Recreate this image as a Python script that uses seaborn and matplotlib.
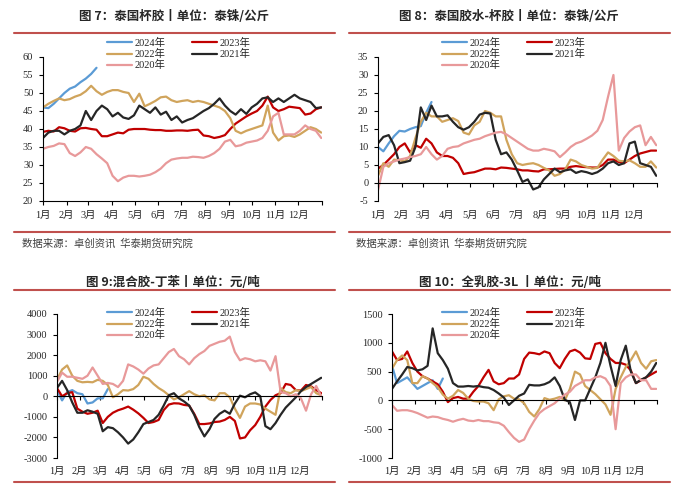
import numpy as np
import matplotlib
matplotlib.use('Agg')
import matplotlib.pyplot as plt
from matplotlib.lines import Line2D
import seaborn as sns

# weekly sample positions (day of year)
days = np.arange(0, 365, 7)
month_starts = [0, 31, 59, 90, 120, 151, 181, 212, 243, 273, 304, 334]
month_labels = ['1月', '2月', '3月', '4月', '5月', '6月', '7月', '8月', '9月', '10月', '11月', '12月']
years = ['2024年', '2023年', '2022年', '2021年', '2020年']
colors = ['#5B9BD5', '#C00000', '#D0A45C', '#262626', '#E8999A']

# 图7 泰国杯胶
cup_2024 = [46, 45.8, 47, 48.5, 50, 51.2, 51.8, 53, 54, 55.3, 57]
cup_2023 = [39.2, 39.5, 39.3, 40.5, 40.2, 39.5, 39.3, 40.2, 40.3, 40,
            39.8, 38, 38, 38.5, 39, 38.8, 39.8, 40, 40, 40,
            39.8, 39.7, 39.7, 39.5, 39.5, 39.6, 39.6, 39.5, 39.7, 39.8,
            38.2, 38, 37.5, 37.8, 38.3, 40, 41.5, 42.5, 43.5, 44.3,
            45, 46.5, 49, 46, 45, 45.5, 46.2, 46, 45.8, 44,
            44.3, 45.5, 46]
cup_2022 = [46, 47, 47.8, 48.5, 48, 48.3, 49, 49.5, 50.5, 52,
            50.5, 49.5, 50.3, 50.8, 50.8, 50.3, 50, 47.5, 49.8, 46.3,
            47, 47.8, 48.8, 49, 48, 47.5, 47.8, 48, 47.5, 47.8,
            47.5, 47, 46.5, 46, 45, 43, 39.5, 38.8, 39.5, 40,
            40.5, 41, 46.5, 39, 36.8, 38, 38.2, 37.8, 38.5, 39.5,
            40.5, 40, 39]
cup_2021 = [37.5, 39, 39.5, 39.5, 38.5, 39.5, 40, 41, 45, 42.5,
            45, 46.5, 45.5, 43.5, 44.5, 43.2, 42.8, 43.8, 46.5, 45.5,
            44.5, 46, 44, 44.8, 42.5, 43.5, 41.8, 42.5, 43, 44,
            45, 45.8, 47, 48.5, 46.5, 45, 44, 45.5, 44.2, 46,
            47, 48.5, 48.8, 47.5, 48.5, 47.5, 48.5, 49.5, 48.5, 48,
            47.5, 45.8, 46]
cup_2020 = [34.5, 35, 35.3, 36, 35.8, 33.3, 32.5, 33.5, 35, 34.5,
            33, 31.8, 30.5, 27, 25.5, 26.5, 27, 27, 26.8, 27,
            27.3, 28, 29, 30.5, 31.5, 31.8, 32, 32, 32.3, 32.2,
            32, 32.5, 33.3, 34.5, 36.5, 37, 35.2, 35.5, 36.2, 36.5,
            36.8, 37.5, 39.5, 43.5, 44.5, 38.5, 38.5, 38.5, 39.5, 41,
            40, 39.5, 37.5]

# 图8 泰国胶水-杯胶
spread_2024 = [10, 8.8, 11, 13, 14.5, 14.3, 15, 15.5, 15.8, 19.5, 22.5]
spread_2023 = [4, 5, 6.5, 8, 10, 11, 8.5, 10.5, 9.8, 12.3,
               11, 8.5, 7.5, 7.5, 7, 5.5, 2.5, 2.8, 3, 3.5,
               4, 4, 3.8, 4.3, 4.2, 4, 3.8, 3.5, 3.5, 3.3,
               3.2, 3.8, 3.8, 3.9, 4, 4, 4.5, 4.7, 4.5, 4.4,
               4.3, 4.3, 5, 6.5, 6.5, 5.8, 5.5, 6.5, 7.5, 8.2,
               8.6, 9, 9]
spread_2022 = [2, 5.5, 4.5, 6.5, 6.3, 6, 7.5, 12.5, 17, 19.5,
               18.5, 18.5, 17, 17.5, 18, 17.2, 14, 13.5, 16, 17,
               20, 19.5, 18.5, 18.5, 12, 8, 5.5, 5, 5.3, 5.5,
               5, 4.2, 3.5, 2, 2.5, 3.8, 6.5, 6, 5, 4.5,
               4, 4.2, 6.5, 8.5, 7.5, 6.2, 6, 6.3, 5.5, 4.5,
               4.5, 6, 4.3]
spread_2021 = [11, 12.8, 13.3, 10.5, 5.5, 5.8, 6.2, 10, 21, 17.5,
               21.5, 18.5, 18.5, 18.8, 17, 15.5, 14.8, 15.5, 17, 19,
               19.5, 19.3, 12, 8, 8.5, 6.5, 3.5, 0.3, 1, -1.8,
               -1.2, 1, 2.5, 4, 3, 3.5, 3.8, 2.8, 3.3, 3,
               2.5, 3, 4, 5.5, 6, 5, 5.5, 11, 11.5, 5.5,
               5, 4.5, 2]
spread_2020 = [-2, 4.5, 5.5, 6, 6.5, 6.8, 7.2, 7.5, 8, 10,
               8, 6.5, 7.5, 9.5, 10, 10.2, 11, 11.5, 12, 12.3,
               13, 13.5, 14, 14.2, 13.5, 12.5, 11.5, 10.5, 9.5, 9,
               9, 9.5, 9.2, 8.8, 7.2, 8.5, 10, 11, 11.5, 12.3,
               13.2, 14.5, 17.5, 24, 30, 9, 12.5, 14.3, 15.5, 16,
               10.5, 12.8, 10.5]

# 图9 混合胶-丁苯
mix_2024 = [300, -200, 200, 300, 150, 100, -350, -300, -100, -100, 350]
mix_2023 = [400, 0, 150, 200, -600, -750, -850, -800, -700, -1300,
            -1000, -800, -680, -600, -500, -650, -830, -1050, -1300, -1250,
            -1150, -670, -400, -340, -350, -420, -450, -850, -1350, -1350,
            -1320, -1250, -1230, -1150, -1000, -1200, -2050, -2000, -1650, -1400,
            -1000, -500, -180, 50, 150, 600, 550, 300, 280, 550,
            480, 300, 150]
mix_2022 = [800, 1300, 1500, 1000, 750, 680, 700, 680, 800, 750,
            550, -50, 100, 300, 280, 350, 550, 950, 850, 600,
            400, 250, 50, -150, -50, 100, 250, 100, 0, 50,
            -150, -200, 150, 150, -50, -600, -1050, -500, -350, -350,
            -400, -600, -750, -900, 400, 200, 150, 300, 250, 350,
            450, 150, 50]
mix_2021 = [400, 750, 300, -300, -800, -800, -680, -750, -850, -1700,
            -1500, -1550, -1750, -2000, -2300, -2100, -1750, -1350, -1250, -1150,
            -900, -450, 50, 150, -100, -250, -450, -900, -1500, -1950,
            -1600, -1100, -850, -700, -850, -350, 30, -50, 100, 190,
            0, -1450, -1600, -1300, -900, -550, -300, -50, 250, 450,
            600, 750, 900]
mix_2020 = [700, 1150, 950, 950, 900, 850, 1000, 1400, 1000, 600,
            650, 600, 450, 750, 1550, 1450, 1300, 1100, 1350, 1500,
            1550, 1850, 2150, 2300, 1950, 1800, 1550, 1850, 2050, 2200,
            2450, 2550, 2650, 2700, 2900, 2150, 1750, 1850, 1800, 1700,
            1750, 1700, 1250, 1950, 200, 150, 0, 100, -100, -700,
            100, 500, 0]

# 图10 全乳胶-3L
full_2024 = [600, 300, 350, 400, 300, 200, 250, 300, 350, 200, 380]
full_2023 = [850, 700, 720, 850, 650, 500, 420, 380, 330, 280,
             150, -30, 40, 60, 30, 30, 150, 250, 400, 530,
             330, 280, 300, 380, 380, 450, 720, 830, 820, 800,
             850, 820, 650, 560, 720, 850, 880, 830, 730, 720,
             980, 1000, 820, 720, 650, 650, 620, 520, 300, 350,
             400, 450, 500]
full_2022 = [550, 700, 780, 700, 300, 300, 420, 380, 300, 230,
             100, 30, 80, 180, 130, 30, -10, -20, -20, -50,
             -170, 20, 70, 90, 30, 20, -50, -200, -280, -150,
             40, 10, 30, 60, 0, 200, 500, 450, 250, 180,
             110, 20, -70, -250, 200, 400, 580, 700, 850, 650,
             550, 680, 700]
full_2021 = [200, 330, 450, 580, 560, 520, 540, 600, 1250, 820,
             700, 550, 300, 240, 240, 250, 240, 250, 230, 220,
             180, 120, 50, -80, 0, 80, 120, 270, 260, 260,
             280, 320, 400, 250, 10, -30, -340, 0, 0, 200,
             400, 650, 1000, 600, 250, 700, 950, 500, 300, 360,
             400, 500, 650]
full_2020 = [-80, -180, -170, -170, -190, -220, -260, -300, -280, -290,
             -320, -340, -370, -340, -320, -350, -360, -340, -360, -360,
             -380, -390, -440, -550, -650, -720, -680, -500, -350, -220,
             -150, -100, -50, 30, 100, 150, 250, 300, 350, 350,
             400, 420, 380, 250, -500, 300, 400, 450, 450, 350,
             350, 200, 200]

W, H = 677, 484
sns.set_theme(style='white')
plt.rcParams['font.family'] = ['Liberation Serif', 'Noto Sans CJK SC']
plt.rcParams['axes.unicode_minus'] = False

fig = plt.figure(figsize=(W / 100, H / 100), dpi=100)
red = '#C0504D'


def fx(px):
    return px / W


def fy(py):
    return 1 - py / H


def draw_panel(rect, data, ylim, ystep, zero_axis, title, title_xy, legend_xy, label_y):
    left, top, right, bottom = rect
    ax = fig.add_axes([fx(left), fy(bottom), fx(right - left), (bottom - top) / H])
    for name, vals, c in zip(years, data, colors):
        sns.lineplot(x=days[:len(vals)], y=vals, ax=ax, color=c, lw=1.6, label=name)
    ax.set_xlim(0, 365)
    ax.set_ylim(*ylim)
    ax.set_yticks(np.arange(ylim[0], ylim[1] + ystep / 2, ystep))
    ax.set_xticks(month_starts + [365])
    ax.set_xticklabels([])
    for s in ['top', 'right']:
        ax.spines[s].set_visible(False)
    for s in ['left', 'bottom']:
        ax.spines[s].set_color('black')
        ax.spines[s].set_linewidth(0.8)
    if zero_axis:
        ax.spines['bottom'].set_position(('data', 0))
    ax.tick_params(axis='both', direction='out', length=3, width=0.8, color='black',
                   labelsize=7.5, pad=4, left=True, bottom=True)
    for d, lab in zip(month_starts, month_labels):
        ax.text(d, label_y, lab, transform=ax.get_xaxis_transform(), ha='center', va='center',
                fontsize=7.5)
    ax.set_xlabel('')
    ax.set_ylabel('')
    # legend in row order: 2024 2023 / 2022 2021 / 2020
    h, l = ax.get_legend_handles_labels()
    hd = dict(zip(l, h))
    order = ['2024年', '2022年', '2020年', '2023年', '2021年']
    ax.legend([hd[k] for k in order], order, loc='upper left', ncol=2, frameon=False,
              bbox_to_anchor=(fx(legend_xy[0]), fy(legend_xy[1])), bbox_transform=fig.transFigure,
              fontsize=7.5, handlelength=2.4, handletextpad=0.25, columnspacing=2.5,
              labelspacing=0.1, borderpad=0, borderaxespad=0)
    fig.text(fx(title_xy[0]), fy(title_xy[1]), title, ha='center', va='center', fontsize=9,
             fontweight='bold', family=['Noto Sans CJK SC', 'DejaVu Sans'])
    return ax


draw_panel((43, 57, 322, 201), [cup_2024, cup_2023, cup_2022, cup_2021, cup_2020],
           (20, 60), 5, False, '图 7：泰国杯胶丨单位：泰铢/公斤', (174, 17), (107, 38), -0.097)
draw_panel((378, 57, 657, 201), [spread_2024, spread_2023, spread_2022, spread_2021, spread_2020],
           (-5, 35), 5, True, '图 8：泰国胶水-杯胶丨单位：泰铢/公斤', (509, 17), (442, 38), -0.097)
draw_panel((57, 314, 322, 458), [mix_2024, mix_2023, mix_2022, mix_2021, mix_2020],
           (-3000, 4000), 1000, True, '图 9:混合胶-丁苯丨单位：元/吨', (173, 283), (107, 308), -0.09)
draw_panel((392, 314, 657, 458), [full_2024, full_2023, full_2022, full_2021, full_2020],
           (-1000, 1500), 500, True, '图 10：全乳胶-3L 丨单位：元/吨', (510, 283), (442, 308), -0.09)

# red separator lines and source notes
for x0, x1 in [(14, 335), (349, 670)]:
    for yy in [33, 232, 290, 482]:
        fig.add_artist(Line2D([fx(x0), fx(x1)], [fy(yy), fy(yy)], color=red, lw=1.5))
for x0 in [22, 356]:
    fig.text(fx(x0), fy(244), '数据来源：卓创资讯  华泰期货研究院', ha='left', va='center',
             fontsize=7.5, color='#404040', family=['Noto Sans CJK SC', 'DejaVu Sans'])

fig.savefig('out.png', dpi=100, facecolor='white')
